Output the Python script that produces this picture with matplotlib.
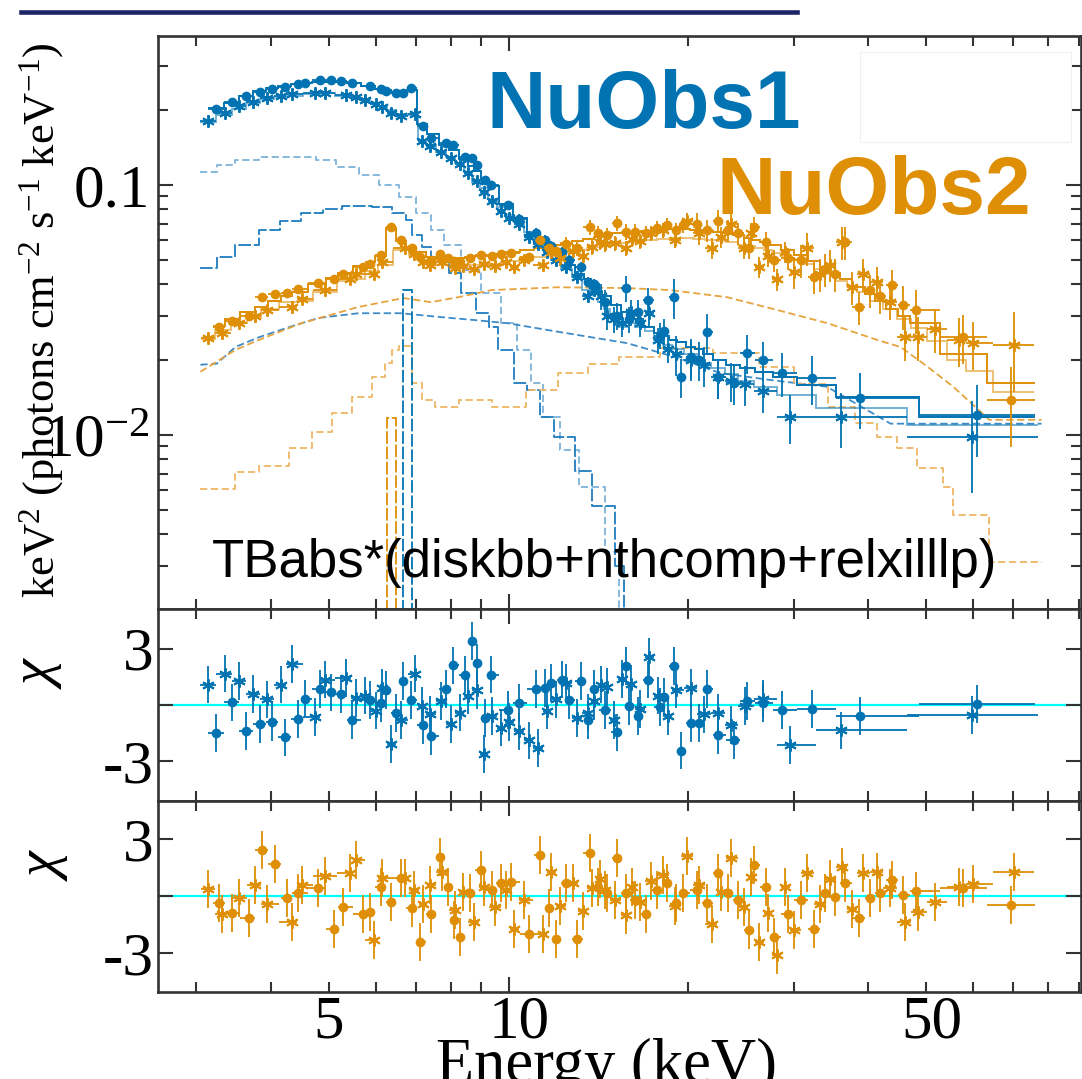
import numpy as np
import matplotlib
matplotlib.use('Agg')
import matplotlib.pyplot as plt
from matplotlib.ticker import FixedLocator, NullFormatter
from matplotlib.patches import Rectangle
from matplotlib.lines import Line2D
from matplotlib.transforms import blended_transform_factory

plt.rcParams['font.family'] = 'Liberation Serif'
plt.rcParams['mathtext.fontset'] = 'custom'
plt.rcParams['mathtext.rm'] = 'Liberation Serif'
plt.rcParams['mathtext.it'] = 'Liberation Serif:italic'
plt.rcParams['mathtext.default'] = 'rm'

BLUE = '#0173B2'
ORANGE = '#DE8F05'

# ---- NuObs1, FPMA (circles) ----
blue_a_e = [3.24, 3.44, 3.63, 3.84, 4.02, 4.22, 4.44, 4.56, 4.83, 5.04,
            5.24, 5.48, 5.86, 6.11, 6.23, 6.47, 6.65, 6.86, 7.18, 7.43,
            7.85, 8.06, 8.44, 8.67, 8.84, 9.12, 9.33, 9.96, 10.4, 11.1,
            11.5, 11.8, 12.3, 12.6, 13.2, 13.6, 13.9, 14.5, 15.2, 15.7,
            15.9, 16.5, 17.1, 17.9, 18.2, 18.9, 19.4, 20.2, 20.8, 21.5,
            22.4, 23.8, 25.1, 26.7, 28.7, 32.2, 38.8, 60.8]
blue_a_flux = [0.201, 0.214, 0.226, 0.236, 0.243, 0.247, 0.253, 0.256, 0.262, 0.262,
               0.261, 0.257, 0.249, 0.242, 0.238, 0.234, 0.233, 0.244, 0.172, 0.154,
               0.147, 0.145, 0.130, 0.128, 0.120, 0.105, 0.100, 0.083, 0.073, 0.064,
               0.060, 0.057, 0.054, 0.050, 0.047, 0.041, 0.040, 0.034, 0.030, 0.0387,
               0.029, 0.031, 0.0346, 0.025, 0.026, 0.0356, 0.0171, 0.0205, 0.020, 0.0258,
               0.0170, 0.0161, 0.0213, 0.0200, 0.0177, 0.0169, 0.0141, 0.0120]
blue_a_model = [0.203, 0.213, 0.228, 0.238, 0.245, 0.250, 0.254, 0.255, 0.258, 0.259,
                0.258, 0.256, 0.249, 0.243, 0.239, 0.235, 0.231, 0.240, 0.176, 0.160,
                0.145, 0.138, 0.127, 0.119, 0.114, 0.106, 0.099, 0.084, 0.074, 0.063,
                0.058, 0.054, 0.050, 0.048, 0.044, 0.042, 0.040, 0.036, 0.033, 0.031,
                0.030, 0.029, 0.027, 0.0255, 0.025, 0.024, 0.0235, 0.0225, 0.022, 0.021,
                0.020, 0.019, 0.0185, 0.0178, 0.0170, 0.0158, 0.0142, 0.0118]
blue_a_relerr = [0.015, 0.015, 0.015, 0.015, 0.015, 0.015, 0.015, 0.015, 0.015, 0.015,
                 0.015, 0.015, 0.015, 0.015, 0.015, 0.015, 0.015, 0.025, 0.025, 0.025,
                 0.025, 0.025, 0.025, 0.025, 0.025, 0.025, 0.025, 0.025, 0.05, 0.05,
                 0.05, 0.05, 0.05, 0.05, 0.05, 0.05, 0.05, 0.12, 0.12, 0.12,
                 0.12, 0.12, 0.12, 0.12, 0.12, 0.18, 0.18, 0.18, 0.18, 0.18,
                 0.18, 0.18, 0.18, 0.18, 0.20, 0.22, 0.25, 0.32]
blue_a_chi = [-1.49, 0.14, -1.37, -1.0, -0.92, -1.72, -0.73, 0.34, 0.85, 0.67,
              0.59, -0.78, 0.28, 0.11, 0.78, -0.43, 1.26, 0.28, -1.05, -1.63,
              0.85, 2.1, 1.62, 3.39, 2.24, -0.69, 1.62, -0.25, 0.11, 0.85,
              0.91, 1.17, 1.35, 0.28, 1.26, -0.78, 0.85, -0.25, -1.46, 2.06,
              -0.07, -0.6, 1.35, -0.11, 0.43, 2.06, -2.42, -0.96, -0.96, 0.85,
              -1.58, -1.85, 0.2, 0.11, -0.28, -0.21, -0.57, 0.05]

# ---- NuObs1, FPMB (asterisks) ----
blue_b_e = [3.14, 3.35, 3.54, 3.74, 3.94, 4.16, 4.34, 4.74, 4.92, 5.34,
            5.55, 5.75, 6.0, 6.15, 6.35, 6.6, 6.97, 7.16, 7.4, 7.7,
            8.0, 8.3, 8.55, 8.84, 9.08, 9.4, 9.7, 10.0, 10.4, 10.8,
            11.2, 11.6, 12.0, 12.5, 13.0, 13.6, 13.9, 14.3, 14.6, 15.0,
            15.5, 16.0, 16.6, 17.2, 17.8, 18.5, 19.1, 20.2, 21.2, 22.4,
            23.6, 24.9, 26.7, 29.6, 36.0, 59.7]
blue_b_flux = [0.180, 0.195, 0.207, 0.215, 0.222, 0.228, 0.232, 0.234, 0.234, 0.229,
               0.224, 0.219, 0.211, 0.205, 0.195, 0.188, 0.192, 0.150, 0.143, 0.136,
               0.128, 0.121, 0.112, 0.104, 0.094, 0.086, 0.079, 0.074, 0.070, 0.062,
               0.058, 0.054, 0.050, 0.047, 0.043, 0.036, 0.038, 0.036, 0.030, 0.029,
               0.028, 0.031, 0.028, 0.0307, 0.024, 0.022, 0.021, 0.020, 0.019, 0.017,
               0.0165, 0.016, 0.015, 0.0118, 0.0118, 0.0098]
blue_b_model = [0.178, 0.190, 0.202, 0.212, 0.220, 0.225, 0.228, 0.232, 0.233, 0.228,
                0.223, 0.218, 0.212, 0.207, 0.200, 0.193, 0.190, 0.152, 0.144, 0.136,
                0.130, 0.122, 0.113, 0.103, 0.097, 0.088, 0.082, 0.076, 0.071, 0.065,
                0.061, 0.055, 0.050, 0.046, 0.043, 0.038, 0.037, 0.034, 0.032, 0.030,
                0.027, 0.028, 0.027, 0.026, 0.024, 0.023, 0.022, 0.021, 0.0195, 0.0185,
                0.0175, 0.0165, 0.0155, 0.0145, 0.0128, 0.0110]
blue_b_relerr = [0.015, 0.015, 0.015, 0.015, 0.015, 0.015, 0.015, 0.015, 0.015, 0.015,
                 0.015, 0.015, 0.015, 0.015, 0.015, 0.015, 0.015, 0.025, 0.025, 0.025,
                 0.025, 0.025, 0.025, 0.025, 0.025, 0.025, 0.025, 0.025, 0.05, 0.05,
                 0.05, 0.05, 0.05, 0.05, 0.05, 0.05, 0.05, 0.12, 0.12, 0.12,
                 0.12, 0.12, 0.12, 0.12, 0.12, 0.12, 0.18, 0.18, 0.18, 0.18,
                 0.18, 0.18, 0.18, 0.22, 0.25, 0.40]
blue_b_chi = [1.08, 1.67, 1.26, 0.6, 0.3, 1.08, 2.18, -0.64, 1.35, 1.44,
              0.37, 0.5, -0.3, 0.9, -2.06, -0.8, 1.67, -0.07, -0.5, 0.2,
              -1.0, -0.4, 0.5, 0.78, -2.59, -0.6, -1.2, -0.9, -1.4, -1.88,
              -2.29, -0.3, 0.3, 1.17, -0.7, -0.4, 0.2, 1.08, 0.96, -0.8,
              1.39, 1.1, -0.2, 2.56, 0.5, -0.6, 0.82, 0.9, -0.5, -0.43,
              -1.05, -0.04, 0.32, -2.11, -1.35, -0.52]

# ---- NuObs2, FPMA (circles) ----
orange_a_e = [3.28, 3.44, 3.68, 3.86, 4.07, 4.25, 4.44, 4.80, 5.10, 5.28,
              5.70, 5.86, 6.11, 6.35, 6.60, 6.88, 7.10, 7.43, 7.69, 7.91,
              8.09, 8.28, 8.61, 8.98, 9.37, 9.70, 10.1, 10.8, 11.3, 11.7,
              12.0, 12.5, 13.0, 13.7, 14.1, 14.6, 15.2, 15.7, 16.3, 17.0,
              17.7, 18.4, 19.1, 19.6, 20.7, 21.5, 22.4, 23.3, 24.2, 25.3,
              25.8, 27.0, 27.8, 29.3, 30.9, 32.5, 33.9, 35.2, 36.6, 38.6,
              40.3, 41.9, 43.9, 45.8, 48.1, 57.6, 69.3]
orange_a_flux = [0.0270, 0.0285, 0.0300, 0.0356, 0.0365, 0.0370, 0.0385, 0.0405, 0.0420, 0.0440,
                 0.0470, 0.0485, 0.0525, 0.0680, 0.0600, 0.0560, 0.0515, 0.0500, 0.0530, 0.0510,
                 0.0495, 0.0490, 0.0510, 0.0525, 0.0520, 0.0530, 0.0535, 0.0515, 0.0600, 0.0560,
                 0.0545, 0.0580, 0.0560, 0.0680, 0.0640, 0.0630, 0.0705, 0.0650, 0.0650, 0.0640,
                 0.0670, 0.0690, 0.0660, 0.0690, 0.0700, 0.0660, 0.0720, 0.0660, 0.0640, 0.0560,
                 0.0680, 0.0590, 0.0500, 0.0510, 0.0500, 0.0430, 0.0460, 0.0440, 0.0590, 0.0325,
                 0.0380, 0.0360, 0.0398, 0.0330, 0.0316, 0.0247, 0.0138]
orange_a_model = [0.0272, 0.0290, 0.0310, 0.0325, 0.0345, 0.0360, 0.0375, 0.0400, 0.0425, 0.0445,
                  0.0475, 0.0490, 0.0520, 0.0670, 0.0595, 0.0565, 0.0540, 0.0515, 0.0505, 0.0505,
                  0.0510, 0.0510, 0.0515, 0.0520, 0.0525, 0.0530, 0.0540, 0.0550, 0.0560, 0.0570,
                  0.0575, 0.0585, 0.0595, 0.0610, 0.0620, 0.0630, 0.0640, 0.0645, 0.0650, 0.0655,
                  0.0660, 0.0665, 0.0665, 0.0665, 0.0660, 0.0655, 0.0650, 0.0640, 0.0630, 0.0615,
                  0.0605, 0.0590, 0.0575, 0.0550, 0.0525, 0.0495, 0.0470, 0.0445, 0.0420, 0.0390,
                  0.0365, 0.0345, 0.0320, 0.0300, 0.0280, 0.0210, 0.0161]
orange_a_relerr = [0.03, 0.03, 0.03, 0.03, 0.03, 0.03, 0.03, 0.03, 0.03, 0.03,
                   0.03, 0.03, 0.03, 0.03, 0.03, 0.03, 0.03, 0.04, 0.04, 0.04,
                   0.04, 0.04, 0.04, 0.04, 0.04, 0.04, 0.04, 0.04, 0.04, 0.04,
                   0.07, 0.07, 0.07, 0.07, 0.07, 0.07, 0.07, 0.07, 0.07, 0.07,
                   0.07, 0.07, 0.07, 0.07, 0.10, 0.10, 0.10, 0.10, 0.10, 0.10,
                   0.10, 0.10, 0.10, 0.10, 0.15, 0.15, 0.15, 0.15, 0.15, 0.15,
                   0.15, 0.15, 0.15, 0.20, 0.20, 0.22, 0.35]
orange_a_chi = [-0.35, -0.88, -1.18, 2.4, 1.69, -0.12, 0.18, 0.41, -1.71, -0.56,
                -0.92, -0.83, 0.46, -0.3, 0.93, -0.65, -2.42, -0.92, 2.05, 0.49,
                -1.27, -2.15, 0.14, 1.38, 0.32, 0.67, 0.76, -1.98, 2.17, -0.65,
                -2.24, 0.67, -2.24, 2.26, 0.49, 0.14, 1.99, 0.14, -0.21, -0.92,
                0.32, 0.67, -0.39, 0.14, 0.32, -0.39, 1.2, 0.14, -0.21, -1.8,
                1.64, 0.49, -2.15, -0.92, -0.21, -1.71, 0.14, -0.04, 0.67, -1.18,
                -0.12, 0.14, 0.85, 0.05, 0.28, 0.41, -0.48]

# ---- NuObs2, FPMB (asterisks) ----
orange_b_e = [3.14, 3.32, 3.54, 3.76, 3.94, 4.34, 4.52, 4.92, 5.42, 5.55,
              5.95, 6.13, 6.70, 6.94, 7.2, 7.4, 7.75, 8.15, 8.4, 8.74,
              9.08, 9.5, 9.9, 10.2, 10.6, 11.4, 11.8, 12.2, 12.8, 13.3,
              13.8, 14.2, 14.5, 15.1, 15.7, 16.1, 16.6, 17.3, 18.1, 19.0,
              19.9, 20.8, 21.9, 22.7, 23.6, 24.8, 25.5, 26.3, 27.2, 28.1,
              29.0, 30.1, 31.6, 33.2, 34.5, 36.2, 37.5, 39.2, 41.3, 43.5,
              46.0, 48.5, 51.8, 56.8, 59.9, 70.1]
orange_b_flux = [0.0245, 0.0255, 0.0280, 0.0300, 0.0315, 0.0325, 0.0350, 0.0380, 0.0420, 0.0440,
                 0.0440, 0.0490, 0.0560, 0.0530, 0.0490, 0.0480, 0.0490, 0.0465, 0.0475, 0.0460,
                 0.0485, 0.0475, 0.0490, 0.0470, 0.0500, 0.0480, 0.0540, 0.0510, 0.0545, 0.0520,
                 0.0565, 0.0590, 0.0580, 0.0585, 0.0560, 0.0610, 0.0595, 0.0640, 0.0660, 0.0600,
                 0.0720, 0.0640, 0.0560, 0.0620, 0.0700, 0.0560, 0.0640, 0.0470, 0.0520, 0.0420,
                 0.0540, 0.0450, 0.0560, 0.0440, 0.0480, 0.0590, 0.0390, 0.0440, 0.0410, 0.0340,
                 0.0247, 0.0247, 0.0265, 0.0240, 0.0233, 0.0229]
orange_b_model = [0.0243, 0.0262, 0.0280, 0.0295, 0.0318, 0.0340, 0.0345, 0.0375, 0.0412, 0.0420,
                  0.0455, 0.0480, 0.0550, 0.0525, 0.0500, 0.0485, 0.0478, 0.0475, 0.0475, 0.0478,
                  0.0480, 0.0485, 0.0490, 0.0495, 0.0500, 0.0515, 0.0522, 0.0530, 0.0540, 0.0550,
                  0.0558, 0.0565, 0.0570, 0.0580, 0.0588, 0.0592, 0.0598, 0.0605, 0.0610, 0.0612,
                  0.0612, 0.0610, 0.0605, 0.0598, 0.0590, 0.0578, 0.0570, 0.0560, 0.0548, 0.0535,
                  0.0522, 0.0505, 0.0485, 0.0460, 0.0440, 0.0415, 0.0395, 0.0372, 0.0345, 0.0318,
                  0.0292, 0.0268, 0.0238, 0.0200, 0.0180, 0.0148]
orange_b_relerr = [0.03, 0.03, 0.03, 0.03, 0.03, 0.03, 0.03, 0.03, 0.03, 0.03,
                   0.03, 0.03, 0.03, 0.03, 0.04, 0.04, 0.04, 0.04, 0.04, 0.04,
                   0.04, 0.04, 0.04, 0.04, 0.04, 0.04, 0.04, 0.07, 0.07, 0.07,
                   0.07, 0.07, 0.07, 0.07, 0.07, 0.07, 0.07, 0.07, 0.07, 0.07,
                   0.07, 0.10, 0.10, 0.10, 0.10, 0.10, 0.10, 0.10, 0.10, 0.10,
                   0.10, 0.15, 0.15, 0.15, 0.15, 0.15, 0.15, 0.15, 0.15, 0.15,
                   0.20, 0.20, 0.20, 0.22, 0.22, 0.35]
orange_b_chi = [0.35, -0.92, -0.12, 0.58, -0.42, -1.36, 0.58, 1.06, 1.2, 1.9,
                -2.33, 0.93, 0.93, 0.32, -0.4, 0.6, 1.29, -0.74, 0.2, -1.36,
                0.49, -0.6, 0.3, -1.71, -0.21, -1.98, 1.29, -0.5, 0.67, -0.8,
                0.4, 0.9, 0.32, -0.2, -1.0, 0.5, -0.3, 0.8, 1.11, -0.5,
                2.08, 0.6, -1.45, 0.2, 1.99, -0.6, 1.0, -2.42, -0.9, -3.12,
                0.5, -1.8, 1.2, -0.4, 0.9, 1.55, -0.7, 1.2, 1.29, 0.4,
                -1.36, -0.83, -0.3, 0.49, 0.63, 1.29]

# ---- model components (left bin edge, value) ----
blue_disk_e = [3.05, 3.25, 3.49, 3.82, 4.34, 4.76, 5.14, 5.61, 6.06, 6.55, 6.99, 7.43,
               7.79, 8.31, 8.98, 9.70, 10.35, 10.9, 11.4, 12.2, 13.1, 14.5, 15.3]
blue_disk_v = [0.113, 0.120, 0.126, 0.129, 0.129, 0.126, 0.118, 0.110, 0.100, 0.0895, 0.0773, 0.066,
               0.0575, 0.0457, 0.037, 0.028, 0.0219, 0.0161, 0.0118, 0.0087, 0.0062, 0.0034, 0.0019]
blue_comp_e = [3.05, 3.25, 3.49, 3.82, 4.15, 4.5, 4.9, 5.26, 5.9, 6.37, 6.73, 6.89, 7.16, 7.43,
               7.94, 8.34, 8.81, 9.26, 9.62, 10.2, 10.75, 11.3, 11.9, 12.9, 13.8, 15.1, 15.6]
blue_comp_v = [0.0466, 0.0515, 0.0575, 0.0660, 0.0720, 0.0773, 0.0805, 0.0824, 0.082, 0.0773,
               0.0724, 0.063, 0.0565, 0.050, 0.0444, 0.037, 0.0307, 0.027, 0.0219, 0.0161,
               0.0151, 0.0118, 0.0098, 0.0072, 0.0052, 0.0030, 0.0019]
blue_refl_e = [3.05, 3.25, 3.49, 3.82, 4.29, 4.81, 5.61, 6.6, 7.73, 8.81, 9.96, 12.2, 15.8,
               19.0, 22.6, 27.4, 34.1, 43.6, 78.0]
blue_refl_v = [0.0191, 0.0193, 0.0225, 0.0246, 0.027, 0.0294, 0.0307, 0.0307, 0.0296, 0.0288,
               0.028, 0.0258, 0.0233, 0.0205, 0.0177, 0.0166, 0.0156, 0.0111, 0.0111]
orange_comp_e = [3.05, 3.49, 3.82, 4.5, 5.6, 6.67, 7.41, 8.25, 9.37, 12.1, 15.8, 18.6, 23.2,
                 28.2, 34.2, 41.4, 45.3, 50.2, 55.5, 63.8, 78.0]
orange_comp_v = [0.0179, 0.0219, 0.024, 0.028, 0.0325, 0.0353, 0.034, 0.0356, 0.038, 0.039,
                 0.0387, 0.038, 0.0356, 0.0316, 0.028, 0.024, 0.0225, 0.0188, 0.0156, 0.0115, 0.0115]
orange_refl_e = [3.05, 3.25, 3.49, 3.82, 4.29, 4.69, 5.06, 5.46, 5.9, 6.2, 6.37, 6.55, 6.89,
                 7.16, 7.53, 8.25, 9.37, 10.7, 12.1, 13.6, 15.3, 17.9, 22.0, 26.3, 30.0, 34.2,
                 38.0, 41.4, 44.7, 48.3, 53.3, 55.5, 63.8, 78.0]
orange_refl_v = [0.0061, 0.0061, 0.0071, 0.0075, 0.0089, 0.0103, 0.0122, 0.0142, 0.0171, 0.0195,
                 0.0218, 0.0226, 0.0161, 0.0138, 0.0129, 0.0138, 0.0129, 0.0151, 0.0177, 0.0193,
                 0.0205, 0.0223, 0.0212, 0.0187, 0.0160, 0.0129, 0.0112, 0.0098, 0.0089, 0.0074,
                 0.0062, 0.0048, 0.0031, 0.0031]
blue_line_edges = [6.67, 6.89]
blue_line_peak = [0.038]
orange_line_edges = [6.25, 6.47]
orange_line_peak = [0.0117]

W, H = 1082, 1079
fig = plt.figure(figsize=(W / 100, H / 100), dpi=100)


def fx(px):
    return px / W


def fy(py):
    return 1 - py / H


x0, x1 = 158, 1081
ax = fig.add_axes([fx(x0), fy(609), fx(x1) - fx(x0), fy(36) - fy(609)])
ax_r1 = fig.add_axes([fx(x0), fy(801), fx(x1) - fx(x0), fy(609) - fy(801)], sharex=ax)
ax_r2 = fig.add_axes([fx(x0), fy(992), fx(x1) - fx(x0), fy(801) - fy(992)], sharex=ax)


def bin_edges(c):
    c = np.asarray(c, float)
    mid = np.sqrt(c[:-1] * c[1:])
    lo = np.r_[c[0] ** 2 / mid[0], mid]
    hi = np.r_[mid, c[-1] ** 2 / mid[-1]]
    return lo, hi


def draw_points(axis, e, y, lo, hi, yerr, color, star):
    axis.errorbar(e, y, xerr=[e - lo, hi - e], yerr=yerr, fmt='none',
                  ecolor=color, elinewidth=1.3, capsize=0, zorder=3)
    if star:
        axis.plot(e, y, ls='none', marker=(6, 2, 0), ms=9, mew=1.4,
                  mec=color, color=color, zorder=4)
    else:
        axis.plot(e, y, ls='none', marker='o', ms=7, mew=0, color=color, zorder=4)


def spectrum(e, flux, model, relerr, chi, color, star, res_ax, model_alpha):
    e = np.asarray(e, float)
    flux = np.asarray(flux, float)
    lo, hi = bin_edges(e)
    ax.stairs(model, np.r_[lo[0], hi], baseline=None, color=color, lw=1.4,
              alpha=model_alpha, zorder=2)
    draw_points(ax, e, flux, lo, hi, flux * np.asarray(relerr), color, star)
    draw_points(res_ax, e, np.asarray(chi, float), lo, hi, 1.0, color, star)


# model components
ax.step(blue_disk_e, blue_disk_v, where='post', color='#7DB2DA', lw=1.3, ls=(0, (4, 2)), zorder=1)
ax.step(blue_comp_e, blue_comp_v, where='post', color='#1C7DC0', lw=1.3, ls=(0, (7, 1.5)), zorder=1)
ax.plot(blue_refl_e, blue_refl_v, color='#3D8BC8', lw=1.3, ls=(0, (4, 2)), zorder=1)
ax.plot(orange_comp_e, orange_comp_v, color='#E7A33E', lw=1.3, ls=(0, (4, 2)), zorder=1)
ax.step(orange_refl_e, orange_refl_v, where='post', color='#EDB565', lw=1.3, ls=(0, (4, 2)), zorder=1)
ax.stairs(blue_line_peak, blue_line_edges, baseline=1e-4, color=BLUE, lw=1.3, ls=(0, (7, 1.5)), zorder=1)
ax.stairs(orange_line_peak, orange_line_edges, baseline=1e-4, color=ORANGE, lw=1.3, ls=(0, (7, 1.5)), zorder=1)

spectrum(blue_a_e, blue_a_flux, blue_a_model, blue_a_relerr, blue_a_chi, BLUE, False, ax_r1, 1.0)
spectrum(blue_b_e, blue_b_flux, blue_b_model, blue_b_relerr, blue_b_chi, BLUE, True, ax_r1, 0.55)
spectrum(orange_a_e, orange_a_flux, orange_a_model, orange_a_relerr, orange_a_chi, ORANGE, False, ax_r2, 1.0)
spectrum(orange_b_e, orange_b_flux, orange_b_model, orange_b_relerr, orange_b_chi, ORANGE, True, ax_r2, 0.55)

for r in (ax_r1, ax_r2):
    r.axhline(0, color='#00FFFF', lw=1.6, zorder=1)

# axes, ticks, spines
ax.set_xscale('log')
ax.set_xlim(2.59, 90.8)
ax.set_yscale('log')
ax.set_ylim(0.002014, 0.3945)
ax_r1.set_ylim(-5.1, 5.1)
ax_r2.set_ylim(-5.05, 5.0)

x_minor = [3, 4, 5, 6, 7, 8, 9, 20, 30, 40, 50, 60, 70, 80, 90]
for a in (ax, ax_r1, ax_r2):
    a.xaxis.set_major_locator(FixedLocator([10]))
    a.xaxis.set_minor_locator(FixedLocator(x_minor))
    a.xaxis.set_major_formatter(NullFormatter())
    a.xaxis.set_minor_formatter(NullFormatter())
    a.tick_params(which='both', direction='in', top=True, right=True,
                  width=1.5, color='#333333', labelsize=44)
    a.tick_params(which='major', length=11)
    a.tick_params(which='minor', length=7)
    for s in a.spines.values():
        s.set_linewidth(1.9)
        s.set_color('#333333')

ax.yaxis.set_major_locator(FixedLocator([0.01, 0.1]))
ax.yaxis.set_minor_locator(FixedLocator([0.002, 0.003, 0.004, 0.005, 0.006, 0.007, 0.008, 0.009,
                                         0.02, 0.03, 0.04, 0.05, 0.06, 0.07, 0.08, 0.09, 0.2, 0.3]))
ax.yaxis.set_minor_formatter(NullFormatter())
ax.set_yticks([0.01, 0.1], labels=['10$^{-2}$', '0.1'])
ax.tick_params(axis='y', which='major', pad=6)

for r in (ax_r1, ax_r2):
    r.set_yticks([-3, 0, 3], labels=['-3', '', '3'])
    r.tick_params(axis='y', which='major', pad=3)

# x tick numbers and axis titles
tr = blended_transform_factory(ax_r2.transData, fig.transFigure)
for val, pos in [('5', 5.0), ('10', 10.43), ('50', 51.2)]:
    ax_r2.text(pos, fy(1023), val, transform=tr, ha='center', va='center', fontsize=44)
fig.text(fx(607), fy(1082), 'Energy (keV)', ha='center', va='baseline', fontsize=45)

fig.text(fx(42), fy(320), 'keV$^2$ (photons cm$^{-2}$ s$^{-1}$ keV$^{-1}$)',
         rotation=90, ha='center', va='center', fontsize=32)
fig.text(fx(38), fy(672), '$\\mathit{\\chi}$', rotation=90, ha='center', va='center', fontsize=42)
fig.text(fx(44), fy(864), '$\\mathit{\\chi}$', rotation=90, ha='center', va='center', fontsize=42)

fig.text(fx(487), fy(128), 'NuObs1', ha='left', va='baseline', fontsize=59,
         fontweight='bold', family='Liberation Sans', color=BLUE)
fig.text(fx(716), fy(214), 'NuObs2', ha='left', va='baseline', fontsize=59,
         fontweight='bold', family='Liberation Sans', color=ORANGE)
fig.text(fx(212), fy(577), 'TBabs*(diskbb+nthcomp+relxilllp)', ha='left', va='baseline',
         fontsize=38, family='Liberation Sans', color='black')

# slide decorations: title rule and blank box
fig.add_artist(Line2D([fx(21), fx(797)], [fy(12), fy(12)], lw=3.3, color='#1E2468'))
fig.add_artist(Rectangle((fx(860), fy(142)), fx(1071) - fx(860), fy(52) - fy(142),
                         transform=fig.transFigure, facecolor='white',
                         edgecolor='#f0f0f0', lw=0.8, zorder=10))

fig.savefig('out.png', dpi=100)
